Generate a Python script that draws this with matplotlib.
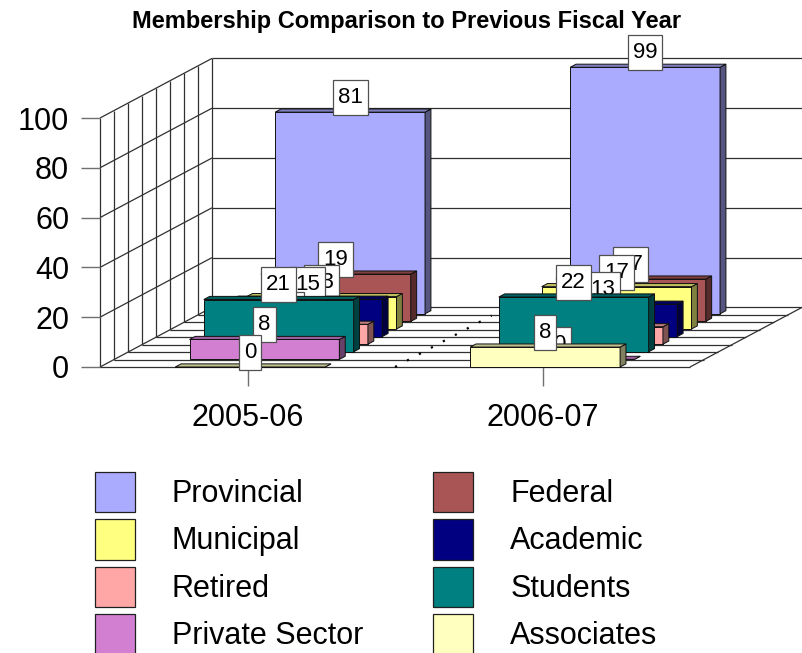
import matplotlib
matplotlib.use('Agg')
import matplotlib.pyplot as plt
from matplotlib.patches import Patch, Polygon
from matplotlib.path import Path

plt.rcParams['font.family'] = ['Liberation Sans', 'DejaVu Sans']

# Data, listed back to front like the chart's depth axis
categories = ['2005-06', '2006-07']
series_names = ['Provincial', 'Federal', 'Municipal', 'Academic',
                'Retired', 'Students', 'Private Sector', 'Associates']
values_0506 = [81, 19, 13, 15, 8, 21, 8, 0]
values_0607 = [99, 17, 17, 13, 7, 22, 0, 8]
colors = ['#AAAAFF', '#AA5555', '#FFFF80', '#000080',
          '#FFA6A6', '#008080', '#D27FD2', '#FFFFC0']
y_ticks = [0, 20, 40, 60, 80, 100]

W, H = 802, 653
# front plane of the chart in pixels
LEFT, RIGHT, TOP, BOTTOM = 100, 690, 118, 367
DEPTH_SLOTS = 8
SLOT_DX = 14 / 295       # category units per depth slot
SLOT_DY = 7.45 * 100 / 249  # value units per depth slot
STEP = 1.02              # bars sit slightly further apart than grid lines
BAR_DEPTH = 0.42
BAR_START = 0.255
BAR_WIDTH = 0.508
GRID = '#303030'
EDGE = '#101010'


def shade(color, f):
    r, g, b = matplotlib.colors.to_rgb(color)
    return (r * f, g * f, b * f)


def pt(x, v, d):
    # oblique projection: depth moves a point right and up
    return (x + d * SLOT_DX, v + d * SLOT_DY)


def label_box(x0, y0, width, height, mutation_size):
    # data label box, wider padding in y than matplotlib's square style gives
    xa, xb = x0 - 5, x0 + width + 5
    ya, yb = y0 - 7, y0 + height + 7
    return Path([(xa, ya), (xb, ya), (xb, yb), (xa, yb), (xa, ya)], closed=True)


fig = plt.figure(figsize=(W / 100, H / 100), dpi=100)
ax = fig.add_axes([LEFT / W, 1 - BOTTOM / H, (RIGHT - LEFT) / W, (BOTTOM - TOP) / H])
ax.set_xlim(0, 2)
ax.set_ylim(0, 100)
ax.patch.set_alpha(0)
for s in ax.spines.values():
    s.set_visible(False)

ax.set_xticks([0.5, 1.5])
ax.set_xticklabels(categories)
ax.set_yticks(y_ticks)
ax.tick_params(axis='both', length=13.7, width=1.0, color='#707070', labelsize=22)
ax.tick_params(axis='x', pad=12.5)
ax.tick_params(axis='y', pad=8.5)


def gridline(p0, p1):
    ax.plot([p0[0], p1[0]], [p0[1], p1[1]], color=GRID, lw=0.9, clip_on=False,
            zorder=1, solid_capstyle='butt')


# floor
for d in range(DEPTH_SLOTS + 1):
    gridline(pt(0, 0, d), pt(2, 0, d))
gridline(pt(0, 0, 0), pt(0, 0, DEPTH_SLOTS))
gridline(pt(2, 0, 0), pt(2, 0, DEPTH_SLOTS))

# left wall
for d in range(DEPTH_SLOTS + 1):
    gridline(pt(0, 0, d), pt(0, 100, d))

# wall lines for each tick
for v in y_ticks[1:]:
    gridline(pt(0, v, 0), pt(0, v, DEPTH_SLOTS))
    gridline(pt(0, v, DEPTH_SLOTS), pt(2, v, DEPTH_SLOTS))

# dotted divider between the categories
ax.plot([1, 1 + 6.9 * SLOT_DX], [0, 6.9 * SLOT_DY], color='black', lw=1.6,
        ls=(0, (1, 5.1)), clip_on=False, zorder=1)

# back series first so nearer bars and labels cover it
z = 2
for i, name in enumerate(series_names):
    depth = (len(series_names) - 1 - i) * STEP
    for c, vals in enumerate([values_0506, values_0607]):
        v = vals[i]
        x0 = c + BAR_START
        x1 = x0 + BAR_WIDTH
        d1 = depth + BAR_DEPTH
        front = [pt(x0, 0, depth), pt(x1, 0, depth), pt(x1, v, depth), pt(x0, v, depth)]
        side = [pt(x1, 0, depth), pt(x1, 0, d1), pt(x1, v, d1), pt(x1, v, depth)]
        top = [pt(x0, v, depth), pt(x1, v, depth), pt(x1, v, d1), pt(x0, v, d1)]
        for poly, f in ((front, 1.0), (side, 0.5), (top, 0.75)):
            ax.add_patch(Polygon(poly, closed=True, facecolor=shade(colors[i], f),
                                 edgecolor=EDGE, lw=0.7, clip_on=False, zorder=z))
        ax.annotate(str(v), xy=pt((x0 + x1) / 2, v, depth), xytext=(0, 10.5),
                    textcoords='offset points', ha='center', va='center',
                    fontsize=16, color='black', zorder=z, annotation_clip=False,
                    bbox=dict(boxstyle=label_box, facecolor='white',
                              edgecolor='#505050', lw=0.9))
    z += 1

# legend fills by column, the chart reads by row
order = [0, 2, 4, 6, 1, 3, 5, 7]
handles = [Patch(facecolor=colors[i], edgecolor='#202020', lw=0.9, label=series_names[i])
           for i in order]
fig.legend(handles=handles, ncol=2, frameon=False, fontsize=22,
           loc='upper left', bbox_to_anchor=(95 / W, 1 - 472 / H),
           borderpad=0, borderaxespad=0, handlelength=1.31, handleheight=1.64,
           handletextpad=1.21, labelspacing=0.243, columnspacing=2.29)

fig.text(407 / W, 1 - 21.5 / H, 'Membership Comparison to Previous Fiscal Year',
         ha='center', va='center', fontsize=17, fontweight='bold', color='black')

fig.savefig('out.png', dpi=100)
